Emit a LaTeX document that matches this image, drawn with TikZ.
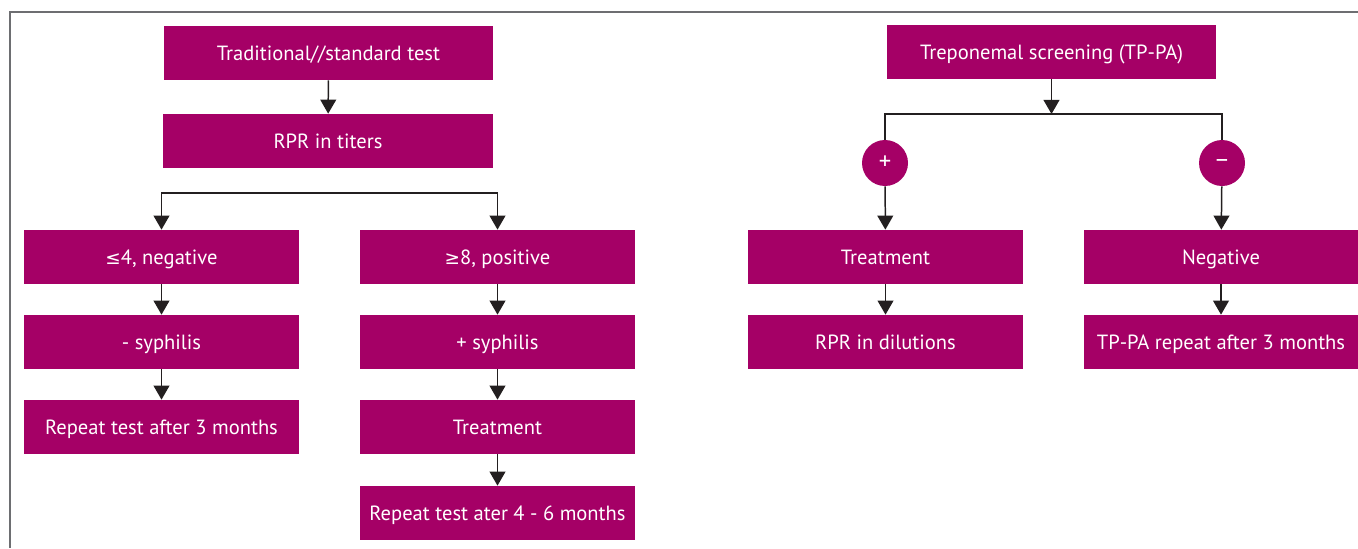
\documentclass[tikz,border=0pt]{standalone}
\usepackage{fontspec}
\setmainfont{PT Sans}
\newfontfamily\symfont{DejaVu Sans}
\usetikzlibrary{arrows.meta}
\definecolor{plum}{HTML}{A50066}
\definecolor{ink}{HTML}{231F20}
\definecolor{frame}{HTML}{6D6E71}

\begin{document}
\begin{tikzpicture}[
		x=0.02cm, y=-0.02cm,
		box/.style={rectangle, fill=plum, text=white, minimum width=5.5cm, minimum height=1.08cm, inner sep=0pt, text height=0.86em, text depth=0em, font=\fontsize{11.7}{13}\selectfont},
		widebox/.style={box, minimum width=6.6cm},
		sign/.style={circle, fill=plum, text=white, minimum size=0.92cm, inner sep=0pt, font=\fontsize{14}{14}\selectfont},
		link/.style={draw=ink, line width=0.85pt},
		arr/.style={link, -{Triangle[width=9pt, length=8pt]}}
	]
  \useasboundingbox (0,0) rectangle (1358,548);
  \draw[frame, line width=0.6pt] (1358,12) -- (10,12) -- (10,548);

  % traditional algorithm
  \node (trad) [widebox] at (328.5,53) {Traditional//standard test};
  \node (titers) [widebox] at (328,141) {RPR in titers};
  \coordinate (split) at (328,193);
  \node (low) [box] at (161.5,257) {{\symfont\fontsize{10.5}{13}\selectfont ≤}4, negative};
  \node (nosyph) [box] at (161.5,342) {- syphilis};
  \node (rep3) [box] at (161.5,427) {Repeat test after 3 months};
  \node (high) [box] at (497.5,257) {{\symfont\fontsize{10.5}{13}\selectfont ≥}8, positive};
  \node (syph) [box] at (497.5,342) {+ syphilis};
  \node (treat) [box] at (497.5,427) {Treatment};
  \node (rep46) [box] at (497.5,513) {Repeat test ater 4 - 6 months};

  \draw[arr] (trad) -- (titers);
  \draw[arr] (split) -| (low);
  \draw[arr] (split) -| (high);
  \draw[arr] (low) -- (nosyph);
  \draw[arr] (nosyph) -- (rep3);
  \draw[arr] (high) -- (syph);
  \draw[arr] (syph) -- (treat);
  \draw[arr] (treat) -- (rep46);

  % reverse algorithm
  \node (tppa) [widebox] at (1051.5,52) {Treponemal screening (TP-PA)};
  \coordinate (tee) at (1051.5,114);
  \node (plus) [sign] at (885,163) {+};
  \node (minus) [sign] at (1222,163) {–};
  \node (rtreat) [box] at (885.5,257) {Treatment};
  \node (dil) [box] at (885.5,342) {RPR in dilutions};
  \node (neg) [box, minimum width=5.48cm] at (1221,257) {Negative};
  \node (tprep) [box, minimum width=5.48cm] at (1221,342) {TP-PA repeat after 3 months};

  \draw[arr] (tppa) -- (tee);
  \draw[link] (plus) -- (plus |- tee) -- (minus |- tee) -- (minus);
  \draw[arr] (plus) -- (rtreat);
  \draw[arr] (minus) -- (neg);
  \draw[arr] (rtreat) -- (dil);
  \draw[arr] (neg) -- (tprep);
\end{tikzpicture}
\end{document}
